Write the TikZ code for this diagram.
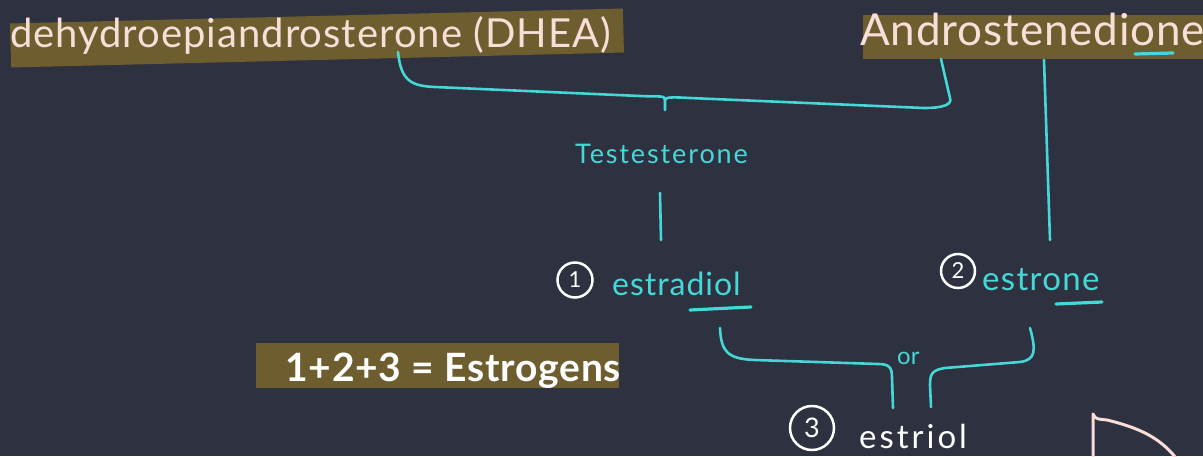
\documentclass[tikz,border=0pt]{standalone}
\usepackage{fontspec}
\setmainfont{Lato}
\definecolor{slate}{HTML}{2E3140}
\definecolor{bandbrown}{HTML}{6E5D2F}
\definecolor{cyanink}{HTML}{45D8D6}
\definecolor{pinkink}{HTML}{F9DDD7}
\begin{document}
\begin{tikzpicture}[x=1pt,y=-1pt,
  band/.style={fill=bandbrown, inner sep=0pt},
  ink/.style={draw=cyanink, line width=2.6pt, line cap=round, line join=round},
  lbl/.style={inner sep=0pt, anchor=base west},
  numring/.style={circle, draw=white, line width=2.5pt, text=white, inner sep=0pt},
  fsz/.style={font=\fontsize{#1}{#1}\selectfont},
  fszs/.style 2 args={font=\fontsize{#1}{#1}\selectfont\addfontfeatures{LetterSpace=#2}},
  fszb/.style 2 args={font=\fontsize{#1}{#1}\selectfont\bfseries\addfontfeatures{LetterSpace=#2}}
]
\useasboundingbox (0,0) rectangle (1203,456);
\fill[slate] (0,0) rectangle (1203,456);

% highlighted headings
\node[band, rotate=1.4, minimum width=613pt, minimum height=44pt] (dheaband) at (317,38) {};
\node[lbl, fszs={40}{2.5}, text=pinkink] (dhea) at (10,47) {dehydroepiandrosterone (DHEA)};

\node[band, anchor=west, minimum width=345pt, minimum height=44pt] (androband) at (863,37) {};
\node[lbl, fszs={44}{2}, text=pinkink] (andro) at (860,45) {Androstenedione};

\node[band, minimum width=363pt, minimum height=45pt] (sumband) at (437,365) {};
\node[lbl, fszb={39}{2}, text=white] (sum) at (285,381) {1+2+3 = Estrogens};

% middle labels
\node[lbl, fszs={27}{7}, text=cyanink] (testo) at (575,163) {Testesterone};

\node[numring, minimum size=35pt, fsz=22] (n1) at (575,280) {1};
\node[lbl, fszs={32}{3}, text=cyanink] (estradiol) at (612,295) {estradiol};

\node[numring, minimum size=34pt, fsz=22] (n2) at (958,271) {2};
\node[lbl, fszs={33}{4}, text=cyanink] (estrone) at (982,290) {estrone};

\node[lbl, fsz=24, text=cyanink] (or) at (897,364) {or};

\node[numring, minimum size=44pt, fsz=27] (n3) at (812,428) {3};
\node[lbl, fszs={33}{9}, text=white] (estriol) at (859,448) {estriol};

% underlines
\draw[ink, line width=3.2pt] (690,310) -- (751,307);
\draw[ink, line width=3.2pt] (1056,304) -- (1102,302);
\draw[ink, line width=3.2pt] (1135,54) -- (1173,53);

% brace joining DHEA and androstenedione into testosterone
\coordinate (tip1) at (665,110);
\draw[ink] (398,52) .. controls (401,80) and (410,86) .. (435,87)
  -- (640,96) .. controls (660,97) and (665,95) .. (665,100) -- (tip1);
\draw[ink] (665,100) .. controls (665,97) and (672,97) .. (690,98)
  -- (924,108) .. controls (945,108) and (952,104) .. (950,98)
  -- (941,59);

% androstenedione straight down to estrone
\draw[ink] (1044,60) -- (1050,240);

% testosterone down to estradiol
\draw[ink] (660,193) -- (661,240);

% brace joining estradiol and estrone into estriol
\draw[ink] (720,328) .. controls (721,352) and (728,359) .. (755,360)
  -- (878,364) .. controls (890,364) and (892,368) .. (892,378) -- (893,408);
\draw[ink] (1030,328) .. controls (1036,350) and (1036,360) .. (1020,362)
  -- (945,368) .. controls (932,370) and (930,374) .. (930,385) -- (931,407);

% pink stroke at the lower right corner
\draw[draw=pinkink, line width=3pt, line cap=round, line join=round]
  (1093,458) -- (1093,414) .. controls (1095,420) and (1100,419) .. (1107,420)
  .. controls (1140,428) and (1160,438) .. (1176,458);
\end{tikzpicture}
\end{document}
